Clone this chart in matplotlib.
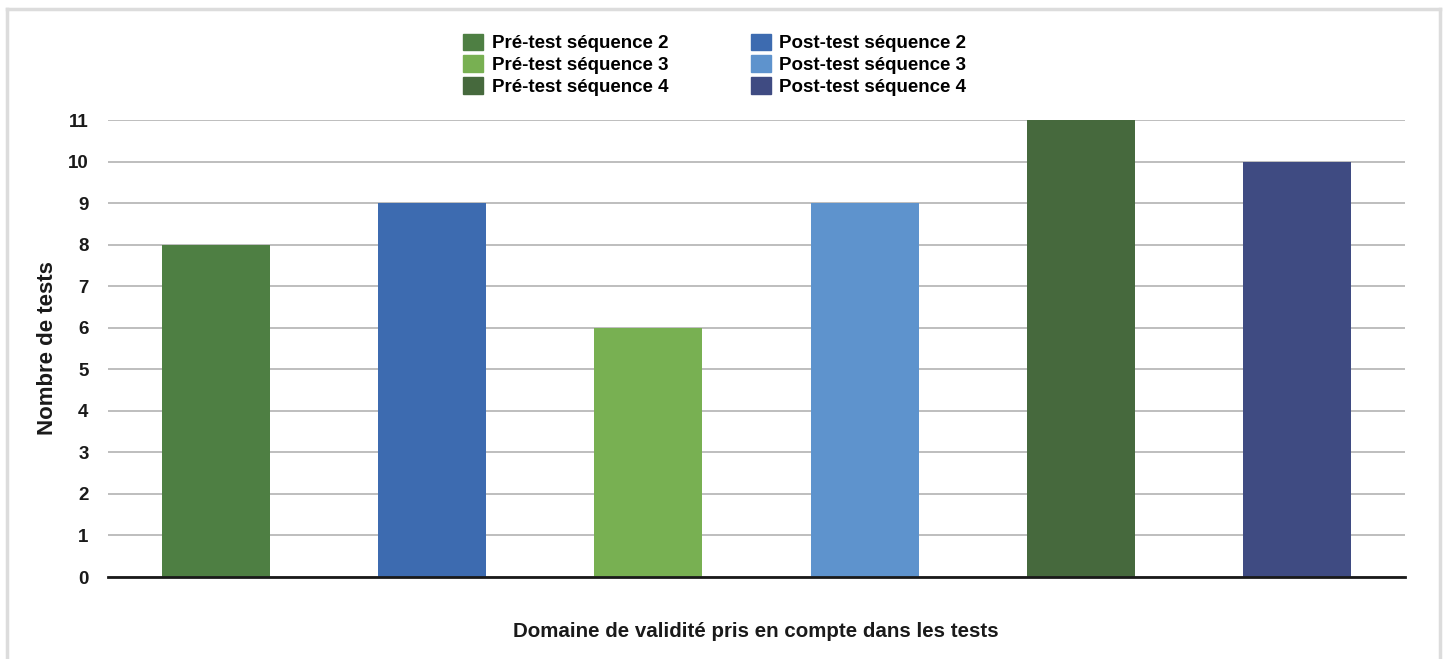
import matplotlib.pyplot as plt
from matplotlib.lines import Line2D
from matplotlib.patches import Patch

# data
series = ["Pré-test séquence 2", "Post-test séquence 2",
          "Pré-test séquence 3", "Post-test séquence 3",
          "Pré-test séquence 4", "Post-test séquence 4"]
values = [8, 9, 6, 9, 11, 10]
colors = ["#4E7F43", "#3D6BB0", "#78B052", "#5E93CD", "#46693D", "#3F4B82"]
yticks = list(range(0, 12))

plt.rcParams['font.family'] = ['Liberation Sans', 'DejaVu Sans']
plt.rcParams['font.weight'] = 'bold'

fig = plt.figure(figsize=(14.47, 6.59), dpi=100)
ax = fig.add_axes([0.0746, 0.1244, 0.8964, 0.6935])

x = list(range(len(values)))
ax.bar(x, values, width=0.5, color=colors, zorder=3)
ax.set_xlim(-0.5, len(values) - 0.5)
ax.set_ylim(0, 11)
ax.set_yticks(yticks)
ax.set_xticks([])
ax.grid(axis='y', color='#b3b3b3', linewidth=1.2, zorder=0)
for s in ['top', 'right', 'left']:
    ax.spines[s].set_visible(False)
ax.spines['bottom'].set_color('#1a1a1a')
ax.spines['bottom'].set_linewidth(2)
ax.spines['bottom'].set_zorder(4)
ax.tick_params(axis='y', length=0, pad=14, labelsize=13.5, labelcolor='#1a1a1a')
for lab in ax.get_yticklabels():
    lab.set_fontweight('bold')

ax.set_ylabel("Nombre de tests", fontsize=16, fontweight='bold', color='#1a1a1a', labelpad=7)
fig.text(0.5225, 0.041, "Domaine de validité pris en compte dans les tests",
         ha='center', va='center', fontsize=14.8, fontweight='bold', color='#1a1a1a')

# legend: left column pré-tests, right column post-tests
order = [0, 2, 4, 1, 3, 5]
handles = [Patch(color=colors[i], label=series[i]) for i in order]
fig.legend(handles=handles, ncol=2, loc='center', bbox_to_anchor=(0.494, 0.902),
           frameon=False, handlelength=1.07, handleheight=1.0,
           handletextpad=0.45, columnspacing=4.4, labelspacing=0.15,
           prop={'weight': 'bold', 'size': 13.5})

# light grey frame around the figure
fc = '#dcdcdc'
fig.add_artist(Line2D([0.005, 0.995], [0.987, 0.987], color=fc, lw=2.5, transform=fig.transFigure))
fig.add_artist(Line2D([0.005, 0.005], [0, 0.987], color=fc, lw=2.5, transform=fig.transFigure))
fig.add_artist(Line2D([0.995, 0.995], [0, 0.987], color=fc, lw=2.5, transform=fig.transFigure))

fig.savefig("out.png", dpi=100)
